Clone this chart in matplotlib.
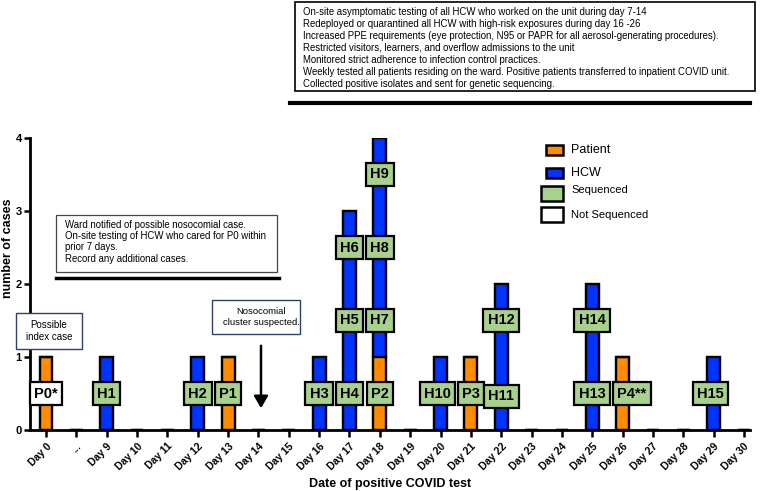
import matplotlib
matplotlib.use("Agg")
import matplotlib.pyplot as plt
from matplotlib.patches import Rectangle, FancyArrowPatch
import numpy as np

plt.rcParams['font.family'] = ['Liberation Sans', 'DejaVu Sans']

categories = ["Day 0", "...", "Day 9", "Day 10", "Day 11", "Day 12", "Day 13", "Day 14",
              "Day 15", "Day 16", "Day 17", "Day 18", "Day 19", "Day 20", "Day 21", "Day 22",
              "Day 23", "Day 24", "Day 25", "Day 26", "Day 27", "Day 28", "Day 29", "Day 30"]
patient = [1, 0, 0, 0, 0, 0, 1, 0, 0, 0, 0, 1, 0, 0, 1, 0, 0, 0, 0, 1, 0, 0, 0, 0]
hcw     = [0, 0, 1, 0, 0, 1, 0, 0, 0, 1, 3, 3, 0, 1, 0, 2, 0, 0, 2, 0, 0, 0, 1, 0]

# case labels: category, stack level, text, sequenced
label_cat = ["Day 0", "Day 9", "Day 12", "Day 13", "Day 16", "Day 17", "Day 17", "Day 17",
             "Day 18", "Day 18", "Day 18", "Day 18", "Day 20", "Day 21", "Day 22", "Day 22",
             "Day 25", "Day 25", "Day 26", "Day 29"]
label_lvl = [0, 0, 0, 0, 0, 0, 1, 2, 0, 1, 2, 3, 0, 0, 0, 1, 0, 1, 0, 0]
label_txt = ["P0*", "H1", "H2", "P1", "H3", "H4", "H5", "H6", "P2", "H7", "H8", "H9",
             "H10", "P3", "H11", "H12", "H13", "H14", "P4**", "H15"]
label_seq = [False] + [True] * 19

ORANGE = "#ff8c00"
BLUE = "#0033ff"
GREEN = "#a9d18e"

W, H = 760, 491
fig = plt.figure(figsize=(7.6, 4.91), dpi=100)

def fx(px):
    return px / W

def fy(py):
    return 1 - py / H

ax = fig.add_axes([fx(30), fy(430), fx(750) - fx(30), fy(138) - fy(430)])

x = np.arange(len(categories))
bw = 0.42
ax.bar(x, patient, width=bw, color=ORANGE, edgecolor="black", linewidth=1.6, zorder=2)
ax.bar(x, hcw, width=bw, bottom=patient, color=BLUE, edgecolor="black", linewidth=1.6, zorder=2)
ax.bar(x, np.array(patient) + np.array(hcw), width=bw, color="none", edgecolor="black",
       linewidth=1.6, zorder=3)

dx_style = {"P4**": 0.3, "H10": -0.1, "H15": -0.1}
dy_style = {"H11": -0.04}
for c, lv, t, s in zip(label_cat, label_lvl, label_txt, label_seq):
    xi = categories.index(c) + dx_style.get(t, 0)
    yi = lv + 0.5 + dy_style.get(t, 0)
    ax.text(xi, yi, t, ha="center", va="center", fontsize=10.5, fontweight="bold", zorder=5,
            bbox=dict(boxstyle="square,pad=0.3", facecolor=GREEN if s else "white",
                      edgecolor="black", linewidth=1.6))

ax.set_xlim(-0.53, 23.2)
ax.set_ylim(0, 4)
ax.set_yticks([0, 1, 2, 3, 4])
ax.set_xticks(x)
ax.set_xticklabels(categories, rotation=45, ha="right", rotation_mode="anchor",
                   fontsize=7.5, fontweight="bold")
for lab in ax.get_yticklabels():
    lab.set_fontweight("bold")
    lab.set_fontsize(8)
ax.tick_params(axis="x", length=5, width=1.8, direction="out", pad=3)
ax.tick_params(axis="y", length=4, width=1.8, direction="out", pad=2)
for sp in ["top", "right"]:
    ax.spines[sp].set_visible(False)
for sp in ["left", "bottom"]:
    ax.spines[sp].set_linewidth(2)

ax.set_xlabel("Date of positive COVID test", fontsize=9, fontweight="bold", labelpad=2)
ax.xaxis.set_label_coords(0.5, -0.165)
fig.text(fx(8), fy(248), "number of cases", rotation=90, ha="center", va="center",
         fontsize=9, fontweight="bold")

# Top text box
top_lines = [
    "On-site asymptomatic testing of all HCW who worked on the unit during day 7-14",
    "Redeployed or quarantined all HCW with high-risk exposures during day 16 -26",
    "Increased PPE requirements (eye protection, N95 or PAPR for all aerosol-generating procedures).",
    "Restricted visitors, learners, and overflow admissions to the unit",
    "Monitored strict adherence to infection control practices.",
    "Weekly tested all patients residing on the ward. Positive patients transferred to inpatient COVID unit.",
    "Collected positive isolates and sent for genetic sequencing.",
]
fig.add_artist(Rectangle((fx(295), fy(91)), fx(755) - fx(295), fy(2) - fy(91),
                         transform=fig.transFigure, facecolor="white", edgecolor="black", lw=1.2))
for i, ln in enumerate(top_lines):
    fig.text(fx(303), fy(12 + i * 12), ln, fontsize=6.9, va="center", ha="left")
fig.add_artist(plt.Line2D([fx(290), fx(750)], [fy(103), fy(103)], transform=fig.transFigure,
                          color="black", lw=3))

# Left text box
left_lines = [
    "Ward notified of possible nosocomial case.",
    "On-site testing of HCW who cared for P0 within",
    "prior 7 days.",
    "Record any additional cases.",
]
fig.add_artist(Rectangle((fx(56), fy(272)), fx(277) - fx(56), fy(215) - fy(272),
                         transform=fig.transFigure, facecolor="white", edgecolor="#444444", lw=0.9))
for i, ln in enumerate(left_lines):
    fig.text(fx(65), fy(225 + i * 11.2), ln, fontsize=6.9, va="center", ha="left")
fig.add_artist(plt.Line2D([fx(56), fx(279)], [fy(278), fy(278)], transform=fig.transFigure,
                          color="black", lw=2.5))

# Possible index case box
fig.add_artist(Rectangle((fx(16), fy(349)), fx(82) - fx(16), fy(313) - fy(349),
                         transform=fig.transFigure, facecolor="white", edgecolor="#2f3f6f", lw=1.0))
fig.text(fx(49), fy(331), "Possible\nindex case", fontsize=7, ha="center", va="center",
         linespacing=1.35)

# Nosocomial cluster box
fig.add_artist(Rectangle((fx(212), fy(334)), fx(300) - fx(212), fy(300) - fy(334),
                         transform=fig.transFigure, facecolor="white", edgecolor="#2f3f6f", lw=1.0))
fig.text(fx(261), fy(317), "Nosocomial\ncluster suspected.", fontsize=6.8, ha="center", va="center",
         linespacing=1.35)
fig.add_artist(FancyArrowPatch((fx(261), fy(343)), (fx(261), fy(411)), transform=fig.transFigure,
                               arrowstyle="-|>,head_length=6,head_width=3.5", color="black", lw=1.8,
                               mutation_scale=1.2))

# Legend
leg_items = [(145, 155, 546, 563, ORANGE, "Patient", 150, 9),
             (168, 178, 546, 563, BLUE, "HCW", 173, 9),
             (186, 201, 541, 563, GREEN, "Sequenced", 190, 8),
             (207, 222, 541, 563, "white", "Not Sequenced", 215, 8)]
for y0, y1, x0, x1, col, txt, ty, fs in leg_items:
    fig.add_artist(Rectangle((fx(x0), fy(y1)), fx(x1) - fx(x0), fy(y0) - fy(y1),
                             transform=fig.transFigure, facecolor=col, edgecolor="black", lw=1.8))
    fig.text(fx(571), fy(ty), txt, fontsize=fs, ha="left", va="center")

fig.savefig("out.png", dpi=100)
